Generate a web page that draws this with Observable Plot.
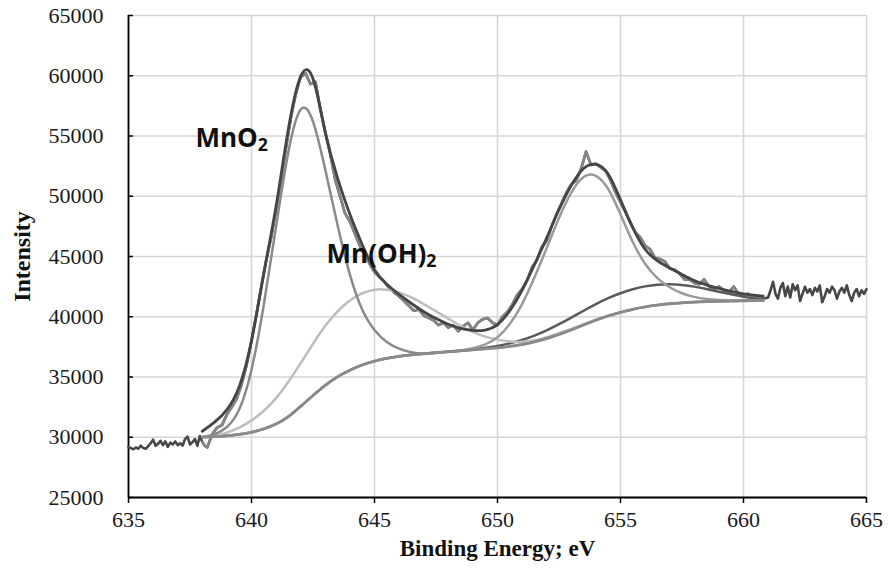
<!DOCTYPE html>
<html>
<head>
<meta charset="utf-8">
<script src="https://cdn.jsdelivr.net/npm/d3@7"></script>
<script src="https://cdn.jsdelivr.net/npm/@observablehq/plot@0.6"></script>
<style>
  html, body { margin: 0; padding: 0; background: #fff; }
  #chart svg { display: block; }
</style>
</head>
<body>
<div id="chart"></div>
<script>
// ---- tick labels ----
const xTicks = [635, 640, 645, 650, 655, 660, 665];
const yTicks = [25000, 30000, 35000, 40000, 45000, 50000, 55000, 60000, 65000];

// ---- raw spectrum (binding energy, eV / intensity) ----
const rawEnergy = [
  635.0,635.1,635.2,635.3,635.4,635.5,635.6,635.7,635.8,635.9,
  636.0,636.1,636.2,636.3,636.4,636.5,636.6,636.7,636.8,636.9,
  637.0,637.1,637.2,637.3,637.4,637.5,637.6,637.7,637.8,637.9,
  638.0,638.1,638.2,638.4,638.6,638.8,
  639.0,639.2,639.4,639.6,639.8,640.0,640.2,640.4,640.6,640.8,
  641.0,641.2,641.4,641.6,641.8,642.0,642.2,642.4,642.6,642.8,
  643.0,643.2,643.4,643.6,643.8,644.0,644.2,644.4,644.6,644.8,
  645.0,645.2,645.4,645.6,645.8,646.0,646.2,646.4,646.6,646.8,
  647.0,647.2,647.4,647.6,647.8,648.0,648.2,648.4,648.6,648.8,
  649.0,649.2,649.4,649.6,649.8,650.0,650.2,650.4,650.6,650.8,
  651.0,651.2,651.4,651.6,651.8,652.0,652.2,652.4,652.6,652.8,
  653.0,653.2,653.4,653.6,653.8,654.0,654.2,654.4,654.6,654.8,
  655.0,655.2,655.4,655.6,655.8,656.0,656.2,656.4,656.6,656.8,
  657.0,657.2,657.4,657.6,657.8,658.0,658.2,658.4,658.6,658.8,
  659.0,659.2,659.4,659.6,659.8,660.0,660.2,660.4,660.6,660.8,
  661.0,661.1,661.2,661.3,661.4,661.5,661.6,661.7,661.8,661.9,
  662.0,662.1,662.2,662.3,662.4,662.5,662.6,662.7,662.8,662.9,
  663.0,663.1,663.2,663.3,663.4,663.5,663.6,663.7,663.8,663.9,
  664.0,664.1,664.2,664.3,664.4,664.5,664.6,664.7,664.8,664.9,
  665.0
];
const rawIntensity = [
  29200,29100,29000,29150,29050,29300,29100,29050,29250,29500,
  29800,29300,29450,29700,29350,29650,29200,29550,29400,29650,
  29350,29500,29300,29850,30050,29400,29600,29850,29300,30100,
  29600,29300,29150,30250,30800,31000,
  31900,32500,33200,34400,36000,38000,40200,42500,44700,46600,
  48900,51300,54000,56500,58500,59900,60200,59300,59500,57200,
  55300,53500,51400,50000,48600,47900,46900,45900,45200,44400,
  43700,43300,42900,42400,42000,41700,41300,40900,40500,40600,
  40100,39900,39700,39300,39500,39100,39300,38800,39200,39500,
  38900,39500,39800,39900,39500,39300,40000,40400,41000,41800,
  42300,43000,44100,44700,45800,46300,47500,48500,49400,50300,
  51000,51300,52300,53700,52600,52700,52400,52100,51300,50300,
  49500,48700,47800,47000,46600,45900,45600,44900,44800,44600,
  44000,43900,43600,43100,43100,42800,42700,43100,42500,42300,
  42500,42200,42000,42500,41900,41800,41900,41600,41700,41500,
  41600,42200,42900,41900,41500,42400,42800,41700,42500,41600,
  42700,42200,42600,41300,41900,42500,42000,42300,41800,42400,
  42100,42600,41200,41700,42300,42000,42500,42200,41500,42100,
  42400,42000,42600,41800,41300,42000,42300,41700,42200,41900,
  42300
];
// fitted window of the raw data
const fitRange = [638.0, 660.8];

// ---- fit curves, sampled on the fit grid ----
const fitEnergy = [
  638.0,638.5,639.0,639.5,640.0,640.5,641.0,641.5,642.0,642.5,
  643.0,643.5,644.0,644.5,645.0,645.5,646.0,646.5,647.0,647.5,
  648.0,648.5,649.0,649.5,650.0,650.5,651.0,651.5,652.0,652.5,
  653.0,653.5,654.0,654.5,655.0,655.5,656.0,656.5,657.0,657.5,
  658.0,658.5,659.0,659.5,660.0,660.5,660.8
];
const background = [
  30000,30040,30110,30220,30400,30680,31080,31700,32550,33450,
  34300,35000,35550,35980,36300,36530,36700,36820,36910,37000,
  37080,37160,37240,37320,37410,37520,37680,37900,38180,38520,
  38900,39300,39700,40050,40350,40600,40800,40950,41060,41140,
  41200,41240,41270,41290,41310,41320,41330
];
const mno2 = [
  30000,30250,30850,32300,35600,41000,47500,53700,57200,56200,
  52200,47600,43500,40600,38900,37900,37350,37050,36950,37030,
  37110,37190,37270,37350,37440,37550,37710,37930,38210,38550,
  38930,39330,39730,40080,40380,40630,40830,40980,41090,41170,
  41230,41270,41300,41320,41340,41350,41360
];
const mnoh2 = [
  30000,30120,30380,30800,31400,32200,33250,34600,36150,37750,
  39250,40450,41350,41950,42250,42250,42000,41600,41050,40450,
  39850,39250,38750,38350,38100,37950,37920,38050,38300,38640,
  38990,39370,39750,40090,40380,40620,40820,40970,41080,41160,
  41220,41260,41290,41310,41330,41340,41350
];
const peak2 = [
  30030,30070,30140,30250,30430,30710,31110,31730,32580,33480,
  34330,35030,35580,36010,36330,36560,36730,36850,36940,37030,
  37110,37190,37380,37700,38300,39400,41050,43250,45700,48200,
  50300,51600,51700,50600,48500,46200,44400,43200,42450,41950,
  41650,41470,41380,41340,41340,41340,41350
];
const satellite = [
  30020,30060,30130,30240,30420,30700,31100,31720,32570,33470,
  34320,35020,35570,36000,36320,36550,36720,36840,36930,37020,
  37100,37180,37300,37420,37580,37790,38070,38430,38870,39380,
  39930,40500,41050,41550,41950,42280,42520,42660,42700,42640,
  42500,42300,42080,41860,41660,41500,41430
];
const envelope = [
  30500,31250,32300,34200,38000,43600,49200,55600,59950,59750,
  55300,51500,48500,46000,43900,42700,41850,41100,40420,39850,
  39380,39040,38870,38900,39350,40500,42200,44300,46550,48900,
  50900,52300,52650,51850,49700,47400,45600,44650,44050,43500,
  43000,42650,42350,42100,41900,41780,41720
];

// ---- annotations ----
const labelMain = ["MnO", "Mn(OH)"];
const labelSub = ["2", "2"];
const labelEnergy = [637.72, 643.05];
const labelIntensity = [54050, 44420];
const xTitle = "Binding Energy; eV";
const yTitle = "Intensity";

// ---- build tables ----
const raw = rawEnergy.map((e, i) => ({e, v: rawIntensity[i]}));
const rawFit = raw.filter(d => d.e >= fitRange[0] && d.e <= fitRange[1]);
const series = (vals) => fitEnergy.map((e, i) => ({e, v: vals[i]}));
const labels = labelMain.map((t, i) => ({t, e: labelEnergy[i], v: labelIntensity[i]}));

const curveOpts = (color, w) => ({x: "e", y: "v", stroke: color, strokeWidth: w, curve: "natural", strokeLinejoin: "round", strokeLinecap: "round"});

const chart = Plot.plot({
  width: 890,
  height: 573,
  marginLeft: 128,
  marginRight: 24,
  marginTop: 15,
  marginBottom: 76,
  style: {fontFamily: "'Liberation Serif', 'Times New Roman', serif", fontSize: "22px", color: "#1a1a1a", background: "#fff", overflow: "visible"},
  x: {domain: [xTicks[0], xTicks[xTicks.length - 1]]},
  y: {domain: [yTicks[0], yTicks[yTicks.length - 1]]},
  marks: [
    Plot.gridX(xTicks, {stroke: "#d6d6d6", strokeOpacity: 1, strokeWidth: 1.6}),
    Plot.gridY(yTicks, {stroke: "#d6d6d6", strokeOpacity: 1, strokeWidth: 1.6}),
    Plot.axisX(xTicks, {tickSize: 6, tickPadding: 8, tickFormat: d3.format("d"), label: null, stroke: "#000", strokeWidth: 1.5, fontSize: 22}),
    Plot.axisY(yTicks, {tickSize: 0, tickPadding: 25, tickFormat: d3.format("d"), label: null, fontSize: 22}),
    Plot.axisY(yTicks, {tickSize: -5, tickPadding: 0, tickFormat: () => "", label: null, stroke: "#000", strokeWidth: 1.5}),
    Plot.ruleX([xTicks[0]], {stroke: "#000", strokeWidth: 1.8}),
    Plot.ruleY([yTicks[0]], {stroke: "#000", strokeWidth: 1.8}),
    // raw spectrum (full range, dark) then the fitted window in grey
    Plot.line(raw, {x: "e", y: "v", stroke: "#474747", strokeWidth: 2.6, strokeLinejoin: "round"}),
    Plot.line(rawFit, {x: "e", y: "v", stroke: "#858585", strokeWidth: 2.6, strokeLinejoin: "round"}),
    // components
    Plot.line(series(satellite), curveOpts("#5a5a5a", 2.5)),
    Plot.line(series(mnoh2), curveOpts("#bdbdbd", 2.5)),
    Plot.line(series(peak2), curveOpts("#9a9a9a", 2.5)),
    Plot.line(series(mno2), curveOpts("#8a8a8a", 2.5)),
    Plot.line(series(background), curveOpts("#8a8a8a", 2.5)),
    // envelope
    Plot.line(series(envelope), curveOpts("#454545", 2.8)),
    // peak labels
    Plot.text(labels, {x: "e", y: "v", text: "t", textAnchor: "start", lineAnchor: "bottom", fontFamily: "'Open Sans', sans-serif", fontWeight: "bold", fontSize: 26, fill: "#111", className: "peak-label"}),
    // axis titles
    Plot.text([yTitle], {x: () => xTicks[0], y: () => (yTicks[0] + yTicks[yTicks.length - 1]) / 2, dx: -106, rotate: -90, textAnchor: "middle", fontWeight: "bold", fontSize: 24, fill: "#111"}),
    Plot.text([xTitle], {frameAnchor: "bottom", dy: 58, fontWeight: "bold", fontSize: 23, fill: "#111"})
  ]
});

// subscripts on the peak labels
d3.select(chart).selectAll("g.peak-label text").each(function(d, i) {
  d3.select(this).append("tspan").attr("dy", "0.22em").attr("font-size", "68%").text(labelSub[i]);
});

document.getElementById("chart").appendChild(chart);
</script>
</body>
</html>
